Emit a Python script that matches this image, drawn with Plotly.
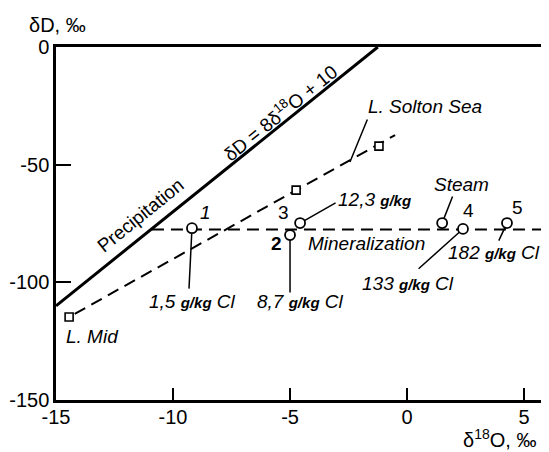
import plotly.graph_objects as go

# ---- data ----
# numbered samples (open circles)
pt_labels = ["1", "2", "3", "Steam", "4", "5"]
pt_x = [-9.19, -5.00, -4.57, 1.50, 2.39, 4.27]
pt_y = [-77.0, -79.9, -74.8, -74.8, -77.3, -74.8]

# lake samples (open squares)
lake_x = [-14.44, -4.74, -1.20]
lake_y = [-114.7, -60.8, -42.1]

# L. Solton Sea mixing line (dashed)
sea_line_x = [-14.2, -0.51]
sea_line_y = [-113.4, -37.4]

# Mineralization line (dashed)
min_line_x = [-10.9, 6.0]
min_line_y = [-77.5, -77.5]

# Meteoric water line dD = 8*d18O + 10
mwl_x = [-15.0, -1.25]
mwl_y = [8 * v + 10 for v in mwl_x]

x_ticks = [-15, -10, -5, 0, 5]
y_ticks = [-150, -100, -50, 0]

FONT = "Liberation Sans, Arial, sans-serif"
FS = 19
TFS = 20

fig = go.Figure()

fig.add_trace(go.Scatter(x=mwl_x, y=mwl_y, mode="lines",
                         line=dict(color="black", width=3), hoverinfo="skip"))
fig.add_trace(go.Scatter(x=sea_line_x, y=sea_line_y, mode="lines",
                         line=dict(color="black", width=2, dash="12px,7px"), hoverinfo="skip"))
fig.add_trace(go.Scatter(x=min_line_x, y=min_line_y, mode="lines",
                         line=dict(color="black", width=2, dash="12px,7px"), hoverinfo="skip"))
fig.add_trace(go.Scatter(x=lake_x, y=lake_y, mode="markers",
                         marker=dict(symbol="square", size=8, color="white",
                                     line=dict(color="black", width=1.6))))
fig.add_trace(go.Scatter(x=pt_x, y=pt_y, mode="markers",
                         marker=dict(symbol="circle", size=10, color="white",
                                     line=dict(color="black", width=1.8))))

ann = []

def txt(x, y, text, angle=0, size=FS):
    ann.append(dict(x=x, y=y, xref="x", yref="y", text=text, showarrow=False,
                    textangle=angle, font=dict(family=FONT, size=size, color="black"),
                    xanchor="center", yanchor="middle"))

def leader(x, y, ax, ay, standoff=5):
    ann.append(dict(x=x, y=y, xref="x", yref="y", ax=ax, ay=ay, axref="x", ayref="y",
                    text="", showarrow=True, arrowhead=0, arrowwidth=1.5,
                    arrowcolor="black", standoff=standoff))

GK = "<b><span style='font-size:15px'>g/kg</span></b>"

txt(-11.41, -71.4, "Precipitation", angle=-39)
txt(-5.43, -27.6, "δD = 8δ<sup>18</sup>O + 10", angle=-39)
txt(0.77, -25.1, "<i>L. Solton Sea</i>")
txt(-13.42, -123.2, "<i>L. Mid</i>")
txt(-8.63, -70.5, "<i>1</i>")
txt(-5.56, -83.3, "<b>2</b>")
txt(-5.30, -70.5, "3")
txt(-1.41, -65.0, "<i>12,3 " + GK + "</i>")
txt(-1.75, -83.7, "<i>Mineralization</i>")
txt(2.31, -58.6, "<i>Steam</i>")
txt(2.61, -69.3, "4")
txt(4.70, -68.0, "5")
txt(-9.15, -108.0, "<i>1,5 " + GK + " Cl</i>")
txt(-4.57, -108.0, "<i>8,7 " + GK + " Cl</i>")
txt(0.04, -100.3, "<i>133 " + GK + " Cl</i>")
txt(3.72, -87.5, "<i>182 " + GK + " Cl</i>")

leader(pt_x[0], pt_y[0], -9.32, -103.3)
leader(pt_x[1], pt_y[1], -5.00, -105.0)
leader(pt_x[2], pt_y[2], -2.99, -65.9)
leader(pt_x[3], pt_y[3], 1.97, -62.9)
leader(pt_x[4], pt_y[4], 0.43, -94.8)
leader(pt_x[5], pt_y[5], 3.89, -82.9)
leader(-2.44, -48.9, -1.67, -30.2, standoff=0)

# axis titles
ann.append(dict(x=-0.059, y=1.062, xref="paper", yref="paper", text="δD, ‰",
                showarrow=False, xanchor="left", yanchor="middle",
                font=dict(family=FONT, size=TFS, color="black")))
ann.append(dict(x=0.904, y=-0.11, xref="paper", yref="paper", text="δ<sup>18</sup>O, ‰",
                showarrow=False, xanchor="center", yanchor="middle",
                font=dict(family=FONT, size=TFS, color="black")))

# the page body adds an 8px offset, so the figure is 8px smaller than the window
fig.update_layout(
    width=541, height=444,
    margin=dict(l=48, r=2, t=39, b=52, autoexpand=False),
    paper_bgcolor="white", plot_bgcolor="white",
    showlegend=False,
    annotations=ann,
    font=dict(family=FONT, size=FS, color="black"),
)
fig.update_xaxes(range=[-15, 5.98], tickvals=x_ticks, ticktext=[str(v) for v in x_ticks],
                 ticks="inside", ticklen=12, tickwidth=2, tickcolor="black",
                 showline=True, linewidth=2.5, linecolor="black", mirror=True,
                 showgrid=False, zeroline=False, automargin=False,
                 ticklabelstandoff=-3,
                 tickfont=dict(family=FONT, size=TFS, color="black"))
fig.update_yaxes(range=[-150, 0], tickvals=y_ticks, ticktext=[str(v) for v in y_ticks],
                 ticks="inside", ticklen=15, tickwidth=2, tickcolor="black",
                 showline=True, linewidth=2.5, linecolor="black", mirror=True,
                 showgrid=False, zeroline=False, automargin=False,
                 tickfont=dict(family=FONT, size=TFS, color="black"))

fig.write_html("out.html")
